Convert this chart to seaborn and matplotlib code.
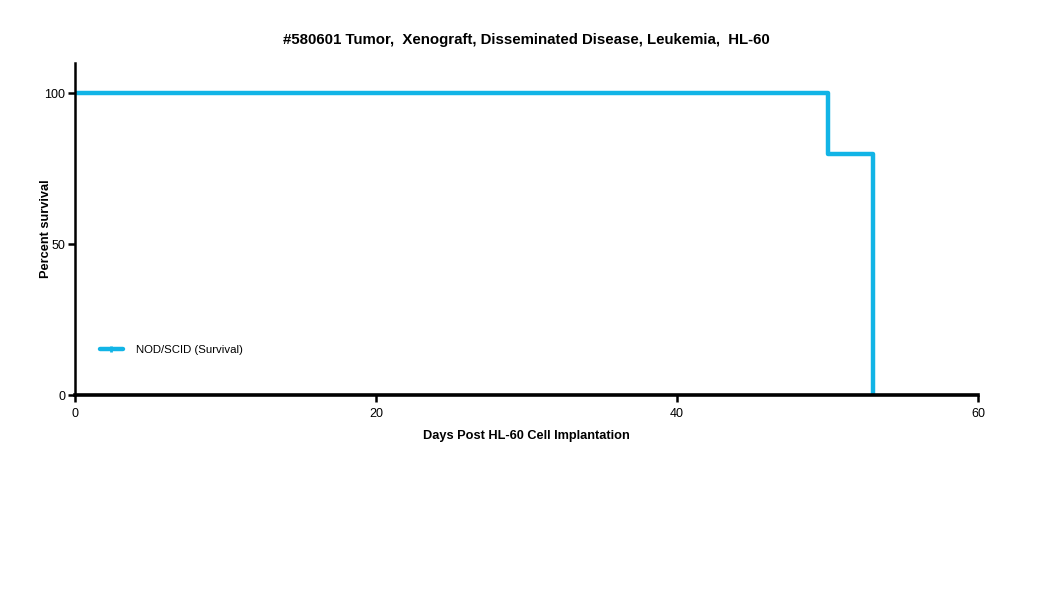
import matplotlib
matplotlib.use("Agg")
import matplotlib.pyplot as plt
import seaborn as sns
import pandas as pd
from matplotlib.lines import Line2D

days = [0, 50, 53]
survival = [100, 80, 0]
series_name = "NOD/SCID (Survival)"
x_ticks = [0, 20, 40, 60]
y_ticks = [0, 50, 100]

sns.set_theme(style="ticks")
plt.rcParams['font.family'] = ['Liberation Sans', 'DejaVu Sans']
plt.rcParams['text.color'] = 'black'
plt.rcParams['axes.labelcolor'] = 'black'

color = "#12B4E6"
df = pd.DataFrame({"Days": days, "Survival": survival})

fig = plt.figure(figsize=(10.5, 5.94), dpi=100)
ax = fig.add_axes([75/1050, 1-395/594, (978-75)/1050, (395-63)/594])
sns.lineplot(data=df, x="Days", y="Survival", ax=ax, drawstyle="steps-post",
             color=color, linewidth=3.2, legend=False)

ax.set_xlim(0, 60)
ax.set_ylim(0, 110)
ax.set_xticks(x_ticks)
ax.set_yticks(y_ticks)
for s in ["top", "right"]:
    ax.spines[s].set_visible(False)
ax.spines["left"].set_linewidth(1.8)
ax.spines["bottom"].set_linewidth(2.6)
ax.spines["left"].set_color("black")
ax.spines["bottom"].set_color("black")
ax.tick_params(axis="both", direction="out", length=5, width=1.8, colors="black",
               labelsize=9, pad=2)
ax.tick_params(axis="x", pad=4.5)
ax.set_xlabel("Days Post HL-60 Cell Implantation", fontsize=9.2, fontweight="bold",
              labelpad=7, color="black")
ax.set_ylabel("Percent survival", fontsize=9.2, fontweight="bold", labelpad=-5.5,
              color="black")
ax.set_title("#580601 Tumor,  Xenograft, Disseminated Disease, Leukemia,  HL-60",
             fontsize=10.8, fontweight="bold", pad=14, color="black")

handle = Line2D([0], [0], color=color, linewidth=3.2, marker="|", markersize=5,
                markeredgewidth=2)
ax.legend([handle], [series_name], loc="center left",
          bbox_to_anchor=((100-75)/903, (395-350)/332),
          frameon=False, fontsize=8.2, handlelength=2.0, handletextpad=1.2,
          borderpad=0, borderaxespad=0)

fig.savefig("out.png", dpi=100)
